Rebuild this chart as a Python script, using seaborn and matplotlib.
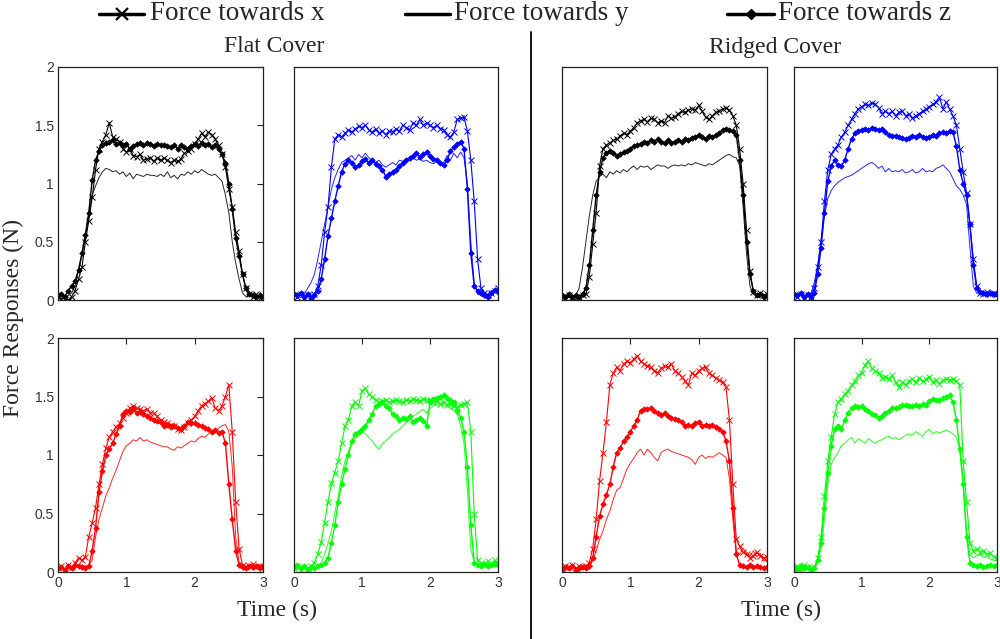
import numpy as np
import matplotlib
matplotlib.use('Agg')
import matplotlib.pyplot as plt
from matplotlib.lines import Line2D
import seaborn as sns

# time axis, 0.05 s sampling
time_s = np.linspace(0, 3, 61)

# ---- Flat cover, black (top-left) ----
flat_k_x = [0.03, 0.01, 0.02, 0.00, 0.03, 0.08, 0.18, 0.28, 0.50, 0.68,
            0.88, 1.12, 1.30, 1.36, 1.42, 1.52, 1.40, 1.38, 1.36, 1.30,
            1.27, 1.30, 1.24, 1.23, 1.25, 1.20, 1.21, 1.22, 1.19, 1.22,
            1.20, 1.22, 1.20, 1.18, 1.20, 1.19, 1.21, 1.26, 1.28, 1.30,
            1.34, 1.38, 1.43, 1.40, 1.44, 1.42, 1.38, 1.33, 1.25, 1.14,
            0.95, 0.80, 0.58, 0.42, 0.22, 0.10, 0.05, 0.03, 0.05, 0.02,
            0.03]
flat_k_y = [0.02, 0.03, 0.02, 0.04, 0.06, 0.12, 0.25, 0.38, 0.55, 0.72,
            0.90, 0.98, 1.05, 1.10, 1.13, 1.12, 1.10, 1.11, 1.08, 1.10,
            1.06, 1.09, 1.04, 1.08, 1.07, 1.06, 1.08, 1.07, 1.07, 1.06,
            1.08, 1.06, 1.10, 1.05, 1.07, 1.04, 1.08, 1.07, 1.10, 1.08,
            1.11, 1.09, 1.12, 1.10, 1.08, 1.07, 1.08, 1.05, 1.02, 0.90,
            0.75, 0.50, 0.32, 0.18, 0.06, 0.03, 0.04, 0.02, 0.03, 0.02,
            0.02]
flat_k_z = [0.04, 0.05, 0.03, 0.08, 0.12, 0.16, 0.26, 0.40, 0.56, 0.75,
            1.03, 1.20, 1.28, 1.33, 1.35, 1.36, 1.37, 1.34, 1.35, 1.33,
            1.34, 1.30, 1.32, 1.34, 1.35, 1.33, 1.35, 1.34, 1.32, 1.34,
            1.33, 1.33, 1.32, 1.31, 1.33, 1.30, 1.33, 1.31, 1.30, 1.32,
            1.34, 1.32, 1.35, 1.33, 1.34, 1.31, 1.33, 1.30, 1.25, 1.18,
            1.00, 0.78, 0.53, 0.38, 0.22, 0.10, 0.05, 0.04, 0.03, 0.04,
            0.03]

# ---- Flat cover, blue (top-right) ----
flat_b_x = [0.04, 0.03, 0.05, 0.02, 0.04, 0.03, 0.05, 0.12, 0.30, 0.58,
            0.80, 1.14, 1.38, 1.42, 1.40, 1.43, 1.46, 1.44, 1.47, 1.49,
            1.48, 1.50, 1.46, 1.44, 1.47, 1.43, 1.45, 1.42, 1.45, 1.44,
            1.47, 1.45, 1.50, 1.48, 1.46, 1.52, 1.50, 1.55, 1.50, 1.52,
            1.50, 1.48, 1.50, 1.47, 1.46, 1.42, 1.40, 1.44, 1.55, 1.56,
            1.57, 1.45, 1.20, 0.85, 0.35, 0.10, 0.06, 0.04, 0.06, 0.08,
            0.10]
flat_b_y = [0.03, 0.04, 0.02, 0.05, 0.10, 0.15, 0.22, 0.35, 0.50, 0.65,
            0.80, 0.95, 1.05, 1.12, 1.18, 1.20, 1.22, 1.24, 1.20, 1.25,
            1.22, 1.26, 1.22, 1.20, 1.18, 1.20, 1.16, 1.14, 1.16, 1.18,
            1.16, 1.20, 1.19, 1.21, 1.20, 1.22, 1.20, 1.21, 1.19, 1.20,
            1.18, 1.17, 1.19, 1.17, 1.18, 1.24, 1.20, 1.26, 1.22, 1.27,
            1.22, 1.00, 0.50, 0.15, 0.05, 0.04, 0.03, 0.05, 0.08, 0.07,
            0.06]
flat_b_z = [0.05, 0.04, 0.06, 0.03, 0.05, 0.02, 0.04, 0.08, 0.18, 0.35,
            0.55, 0.70, 0.85, 0.98, 1.10, 1.17, 1.20, 1.18, 1.14, 1.16,
            1.19, 1.21, 1.18, 1.20, 1.17, 1.15, 1.12, 1.06, 1.08, 1.10,
            1.12, 1.15, 1.18, 1.20, 1.22, 1.24, 1.26, 1.23, 1.25, 1.27,
            1.24, 1.21, 1.20, 1.18, 1.16, 1.20, 1.28, 1.31, 1.34, 1.36,
            1.30, 0.95, 0.40, 0.12, 0.08, 0.06, 0.04, 0.03, 0.06, 0.09,
            0.07]

# ---- Ridged cover, black (top-left) ----
ridge_k_x = [0.03, 0.02, 0.04, 0.03, 0.02, 0.03, 0.04, 0.05, 0.20, 0.48,
             0.75, 1.15, 1.30, 1.33, 1.35, 1.37, 1.38, 1.41, 1.43, 1.42,
             1.45, 1.48, 1.52, 1.54, 1.55, 1.53, 1.56, 1.55, 1.52, 1.54,
             1.52, 1.58, 1.56, 1.57, 1.60, 1.62, 1.61, 1.63, 1.64, 1.63,
             1.67, 1.62, 1.57, 1.55, 1.58, 1.61, 1.62, 1.64, 1.65, 1.63,
             1.58, 1.50, 1.30, 1.00, 0.60, 0.25, 0.07, 0.04, 0.06, 0.04,
             0.05]
ridge_k_y = [0.02, 0.03, 0.02, 0.03, 0.04, 0.10, 0.28, 0.50, 0.72, 0.90,
             1.02, 1.06, 1.08, 1.05, 1.10, 1.08, 1.11, 1.09, 1.12, 1.10,
             1.13, 1.15, 1.12, 1.15, 1.14, 1.15, 1.12, 1.14, 1.16, 1.15,
             1.15, 1.13, 1.15, 1.16, 1.15, 1.16, 1.15, 1.17, 1.16, 1.18,
             1.17, 1.16, 1.15, 1.17, 1.16, 1.18, 1.20, 1.22, 1.24, 1.25,
             1.23, 1.22, 1.15, 0.80, 0.40, 0.12, 0.05, 0.04, 0.03, 0.05,
             0.04]
ridge_k_z = [0.04, 0.03, 0.05, 0.03, 0.04, 0.03, 0.05, 0.10, 0.30, 0.60,
             0.90, 1.10, 1.22, 1.26, 1.28, 1.26, 1.24, 1.25, 1.27, 1.28,
             1.30, 1.32, 1.33, 1.34, 1.36, 1.35, 1.37, 1.36, 1.38, 1.36,
             1.35, 1.37, 1.35, 1.36, 1.37, 1.36, 1.38, 1.37, 1.39, 1.40,
             1.42, 1.40, 1.38, 1.41, 1.40, 1.42, 1.43, 1.46, 1.47, 1.46,
             1.45, 1.42, 1.20, 0.90, 0.50, 0.22, 0.08, 0.04, 0.05, 0.03,
             0.04]

# ---- Ridged cover, blue (top-right) ----
ridge_b_x = [0.04, 0.03, 0.05, 0.02, 0.04, 0.03, 0.10, 0.28, 0.50, 0.85,
             1.12, 1.25, 1.30, 1.33, 1.40, 1.44, 1.50, 1.55, 1.60, 1.64,
             1.66, 1.68, 1.67, 1.69, 1.68, 1.65, 1.60, 1.62, 1.60, 1.62,
             1.58, 1.61, 1.62, 1.58, 1.60, 1.56, 1.58, 1.60, 1.62, 1.64,
             1.66, 1.68, 1.70, 1.74, 1.64, 1.70, 1.64, 1.58, 1.50, 1.30,
             1.10, 0.92, 0.65, 0.35, 0.12, 0.06, 0.05, 0.07, 0.05, 0.06,
             0.05]
ridge_b_y = [0.03, 0.02, 0.04, 0.02, 0.03, 0.05, 0.15, 0.30, 0.52, 0.72,
             0.87, 0.94, 0.98, 1.01, 1.03, 1.05, 1.06, 1.07, 1.09, 1.11,
             1.13, 1.15, 1.17, 1.18, 1.16, 1.13, 1.15, 1.10, 1.13, 1.10,
             1.11, 1.10, 1.12, 1.09, 1.10, 1.12, 1.09, 1.10, 1.13, 1.10,
             1.11, 1.10, 1.13, 1.14, 1.16, 1.13, 1.10, 1.04, 0.98, 0.95,
             0.90, 0.82, 0.45, 0.12, 0.06, 0.05, 0.04, 0.05, 0.04, 0.04,
             0.03]
ridge_b_z = [0.05, 0.04, 0.06, 0.03, 0.05, 0.03, 0.06, 0.22, 0.45, 0.75,
             1.02, 1.15, 1.20, 1.16, 1.15, 1.20, 1.30, 1.38, 1.43, 1.45,
             1.46, 1.47, 1.46, 1.48, 1.47, 1.46, 1.47, 1.44, 1.42, 1.41,
             1.41, 1.40, 1.39, 1.38, 1.39, 1.41, 1.40, 1.42, 1.40, 1.39,
             1.40, 1.42, 1.41, 1.43, 1.44, 1.43, 1.45, 1.44, 1.32, 1.12,
             1.00, 0.90, 0.65, 0.30, 0.10, 0.07, 0.06, 0.05, 0.06, 0.05,
             0.05]

# ---- Flat cover, red (bottom-left) ----
flat_r_x = [0.03, 0.05, 0.02, 0.06, 0.04, 0.08, 0.12, 0.10, 0.13, 0.30,
            0.42, 0.55, 0.75, 0.92, 1.06, 1.15, 1.20, 1.24, 1.27, 1.32,
            1.36, 1.40, 1.42, 1.40, 1.39, 1.38, 1.39, 1.36, 1.36, 1.33,
            1.30, 1.28, 1.27, 1.26, 1.25, 1.22, 1.21, 1.24, 1.27, 1.30,
            1.33, 1.38, 1.42, 1.44, 1.46, 1.49, 1.40, 1.38, 1.42, 1.50,
            1.60, 1.20, 0.60, 0.20, 0.06, 0.04, 0.05, 0.07, 0.04, 0.05,
            0.05]
flat_r_y = [0.02, 0.03, 0.02, 0.04, 0.03, 0.05, 0.04, 0.06, 0.05, 0.06,
            0.10, 0.30, 0.45, 0.55, 0.65, 0.72, 0.80, 0.87, 0.95, 1.03,
            1.08, 1.10, 1.13, 1.12, 1.15, 1.12, 1.13, 1.11, 1.10, 1.09,
            1.08, 1.07, 1.07, 1.05, 1.04, 1.07, 1.06, 1.08, 1.10, 1.12,
            1.11, 1.14, 1.16, 1.15, 1.18, 1.20, 1.20, 1.23, 1.25, 1.26,
            1.20, 0.90, 0.30, 0.08, 0.05, 0.04, 0.06, 0.05, 0.04, 0.06,
            0.05]
flat_r_z = [0.03, 0.04, 0.02, 0.05, 0.03, 0.06, 0.05, 0.04, 0.03, 0.05,
            0.18, 0.38, 0.68, 0.86, 1.00, 1.05, 1.10, 1.18, 1.25, 1.35,
            1.38, 1.37, 1.39, 1.36, 1.37, 1.35, 1.33, 1.32, 1.30, 1.29,
            1.28, 1.25, 1.26, 1.24, 1.25, 1.23, 1.22, 1.25, 1.28, 1.27,
            1.27, 1.26, 1.25, 1.23, 1.22, 1.20, 1.21, 1.19, 1.20, 1.10,
            0.75, 0.45, 0.18, 0.06, 0.04, 0.03, 0.05, 0.04, 0.05, 0.03,
            0.04]

# ---- Flat cover, green (bottom-right) ----
flat_g_x = [0.03, 0.05, 0.02, 0.04, 0.03, 0.05, 0.08, 0.15, 0.26, 0.42,
            0.60, 0.76, 0.85, 0.95, 1.10, 1.25, 1.30, 1.42, 1.45, 1.42,
            1.55, 1.57, 1.52, 1.50, 1.47, 1.45, 1.46, 1.47, 1.45, 1.46,
            1.47, 1.46, 1.45, 1.47, 1.46, 1.48, 1.47, 1.46, 1.48, 1.47,
            1.47, 1.45, 1.46, 1.44, 1.45, 1.43, 1.44, 1.42, 1.41, 1.43,
            1.44, 1.45, 1.20, 0.50, 0.10, 0.08, 0.06, 0.09, 0.07, 0.10,
            0.08]
flat_g_y = [0.03, 0.02, 0.04, 0.03, 0.02, 0.04, 0.03, 0.05, 0.08, 0.15,
            0.25, 0.35, 0.50, 0.65, 0.82, 0.95, 1.03, 1.10, 1.14, 1.17,
            1.20, 1.18, 1.15, 1.12, 1.08, 1.05, 1.10, 1.12, 1.15, 1.18,
            1.20, 1.22, 1.25, 1.28, 1.30, 1.33, 1.35, 1.37, 1.39, 1.36,
            1.40, 1.42, 1.43, 1.44, 1.42, 1.43, 1.40, 1.38, 1.35, 1.25,
            1.10, 0.70, 0.20, 0.08, 0.06, 0.05, 0.06, 0.04, 0.05, 0.06,
            0.05]
flat_g_z = [0.04, 0.06, 0.03, 0.05, 0.02, 0.04, 0.03, 0.05, 0.06, 0.08,
            0.12, 0.25, 0.40, 0.60, 0.75, 0.88, 1.00, 1.12, 1.18, 1.20,
            1.22, 1.25, 1.30, 1.35, 1.42, 1.44, 1.45, 1.42, 1.40, 1.35,
            1.33, 1.30, 1.32, 1.31, 1.33, 1.28, 1.30, 1.32, 1.29, 1.25,
            1.45, 1.48, 1.49, 1.50, 1.51, 1.49, 1.47, 1.45, 1.38, 1.32,
            1.20, 0.90, 0.40, 0.08, 0.06, 0.05, 0.07, 0.05, 0.06, 0.07,
            0.06]

# ---- Ridged cover, red (bottom-left) ----
ridge_r_x = [0.03, 0.05, 0.04, 0.06, 0.03, 0.05, 0.04, 0.05, 0.08, 0.20,
             0.45, 0.78, 1.02, 1.28, 1.60, 1.70, 1.75, 1.72, 1.78, 1.80,
             1.79, 1.82, 1.85, 1.80, 1.78, 1.76, 1.75, 1.72, 1.70, 1.74,
             1.76, 1.75, 1.78, 1.72, 1.70, 1.67, 1.63, 1.60, 1.70, 1.68,
             1.72, 1.74, 1.75, 1.70, 1.68, 1.66, 1.64, 1.62, 1.58, 1.30,
             0.75, 0.28, 0.22, 0.17, 0.15, 0.12, 0.14, 0.17, 0.14, 0.12,
             0.13]
ridge_r_y = [0.02, 0.03, 0.02, 0.04, 0.03, 0.02, 0.03, 0.02, 0.04, 0.10,
             0.18, 0.28, 0.35, 0.45, 0.52, 0.62, 0.70, 0.72, 0.80, 0.88,
             0.93, 0.97, 1.02, 1.05, 1.00, 1.05, 1.02, 0.98, 0.95, 1.02,
             1.04, 1.05, 1.03, 1.02, 1.01, 1.00, 0.99, 0.98, 0.96, 0.92,
             0.98, 1.00, 0.97, 0.99, 0.98, 1.00, 1.02, 1.00, 0.98, 0.80,
             0.45, 0.18, 0.15, 0.20, 0.17, 0.14, 0.18, 0.13, 0.16, 0.10,
             0.09]
ridge_r_z = [0.02, 0.04, 0.03, 0.05, 0.02, 0.03, 0.04, 0.03, 0.05, 0.12,
             0.30, 0.48, 0.58, 0.66, 0.75, 0.90, 1.02, 1.06, 1.12, 1.15,
             1.20, 1.25, 1.30, 1.38, 1.39, 1.39, 1.40, 1.38, 1.36, 1.34,
             1.36, 1.33, 1.32, 1.31, 1.30, 1.28, 1.25, 1.26, 1.25, 1.27,
             1.28, 1.25, 1.26, 1.25, 1.26, 1.24, 1.22, 1.20, 1.12, 0.95,
             0.55, 0.15, 0.06, 0.05, 0.04, 0.06, 0.04, 0.05, 0.04, 0.03,
             0.04]

# ---- Ridged cover, green (bottom-right) ----
ridge_g_x = [0.03, 0.05, 0.02, 0.06, 0.04, 0.03, 0.04, 0.12, 0.30, 0.65,
             0.95, 1.15, 1.35, 1.45, 1.48, 1.52, 1.55, 1.60, 1.63, 1.68,
             1.70, 1.77, 1.80, 1.74, 1.72, 1.70, 1.66, 1.67, 1.65, 1.68,
             1.62, 1.58, 1.62, 1.60, 1.63, 1.65, 1.62, 1.66, 1.63, 1.65,
             1.67, 1.62, 1.64, 1.61, 1.64, 1.65, 1.64, 1.65, 1.63, 1.60,
             0.95, 0.60, 0.25, 0.18, 0.20, 0.17, 0.18, 0.15, 0.16, 0.13,
             0.12]
ridge_g_y = [0.02, 0.03, 0.02, 0.04, 0.03, 0.02, 0.04, 0.10, 0.20, 0.45,
             0.75, 0.92, 0.98, 1.02, 1.08, 1.10, 1.13, 1.15, 1.10, 1.14,
             1.12, 1.10, 1.14, 1.12, 1.10, 1.12, 1.13, 1.15, 1.16, 1.14,
             1.15, 1.13, 1.15, 1.17, 1.18, 1.17, 1.20, 1.18, 1.16, 1.20,
             1.22, 1.18, 1.20, 1.19, 1.20, 1.21, 1.20, 1.18, 1.15, 1.05,
             0.80, 0.35, 0.15, 0.12, 0.14, 0.15, 0.12, 0.13, 0.11, 0.10,
             0.10]
ridge_g_z = [0.04, 0.02, 0.05, 0.03, 0.04, 0.02, 0.03, 0.10, 0.25, 0.55,
             0.85, 1.08, 1.22, 1.25, 1.22, 1.30, 1.36, 1.40, 1.42, 1.41,
             1.42, 1.39, 1.38, 1.35, 1.34, 1.32, 1.33, 1.36, 1.38, 1.40,
             1.40, 1.41, 1.43, 1.43, 1.42, 1.42, 1.43, 1.42, 1.44, 1.43,
             1.46, 1.48, 1.47, 1.47, 1.49, 1.50, 1.51, 1.45, 1.30, 1.05,
             0.75, 0.30, 0.08, 0.06, 0.05, 0.06, 0.04, 0.05, 0.06, 0.05,
             0.06]

legend_labels = ['Force towards x', 'Force towards y', 'Force towards z']
y_ticks = [0, 0.5, 1, 1.5, 2]
y_ticklabels = ['0', '0.5', '1', '1.5', '2']
x_ticks = [0, 1, 2, 3]
x_ticklabels = ['0', '1', '2', '3']

sns.set_theme(style='white')
plt.rcParams['font.family'] = ['Liberation Serif', 'DejaVu Serif']

fig = plt.figure(figsize=(10, 6.39), dpi=100)

W, H = 1000.0, 639.0
top_b, top_h = 1 - 300 / H, 233 / H
bot_b, bot_h = 1 - 572 / H, 234 / H

# (left px, width px, bottom, height, colour, x, y, z, y labels, x labels)
panels = [
    (58, 205, top_b, top_h, '#000000', flat_k_x, flat_k_y, flat_k_z, True, False),
    (294, 204, top_b, top_h, '#0000ff', flat_b_x, flat_b_y, flat_b_z, False, False),
    (562, 205, top_b, top_h, '#000000', ridge_k_x, ridge_k_y, ridge_k_z, False, False),
    (794, 203, top_b, top_h, '#0000ff', ridge_b_x, ridge_b_y, ridge_b_z, False, False),
    (58, 205, bot_b, bot_h, '#ff0000', flat_r_x, flat_r_y, flat_r_z, True, True),
    (294, 204, bot_b, bot_h, '#00ff00', flat_g_x, flat_g_y, flat_g_z, False, True),
    (562, 205, bot_b, bot_h, '#ff0000', ridge_r_x, ridge_r_y, ridge_r_z, False, True),
    (794, 203, bot_b, bot_h, '#00ff00', ridge_g_x, ridge_g_y, ridge_g_z, False, True),
]

for left, width, bottom, height, col, fx, fy, fz, ylab, xlab in panels:
    ax = fig.add_axes([left / W, bottom, width / W, height])
    sns.lineplot(x=time_s, y=fy, ax=ax, color=col, lw=0.7, alpha=0.85)
    sns.lineplot(x=time_s, y=fx, ax=ax, color=col, lw=0.8,
                 marker='x', markersize=4.5, markeredgewidth=0.7,
                 markeredgecolor=col, markerfacecolor=col)
    sns.lineplot(x=time_s, y=fz, ax=ax, color=col, lw=1.0,
                 marker='D', markersize=2.8, markeredgewidth=0.5,
                 markeredgecolor=col, markerfacecolor=col)
    ax.set_xlim(0, 3)
    ax.set_ylim(0, 2)
    ax.set_xlabel('')
    ax.set_ylabel('')
    for sp in ax.spines.values():
        sp.set_color('#222222')
        sp.set_linewidth(0.9)
    if ylab:
        ax.set_yticks(y_ticks)
        ax.set_yticklabels(y_ticklabels, fontfamily='Liberation Sans')
    else:
        ax.set_yticks([])
    if xlab:
        ax.set_xticks(x_ticks)
        ax.set_xticklabels(x_ticklabels, fontfamily='Liberation Sans')
    else:
        ax.set_xticks([])
    ax.tick_params(direction='in', length=4, width=0.8, top=True, right=True,
                   labelsize=10, labelcolor='#333333', color='#222222', pad=3)

fig.text(274 / W, 1 - 47 / H, 'Flat Cover', ha='center', va='center', fontsize=17)
fig.text(775 / W, 1 - 47 / H, 'Ridged Cover', ha='center', va='center', fontsize=17)
fig.text(277 / W, 1 - 610 / H, 'Time (s)', ha='center', va='center', fontsize=17)
fig.text(781 / W, 1 - 610 / H, 'Time (s)', ha='center', va='center', fontsize=17)
fig.text(13 / W, 1 - 318 / H, 'Force Responses (N)', ha='center', va='center',
         rotation=90, fontsize=17)

# divider between the two cover types
fig.add_artist(Line2D([531 / W, 531 / W], [0, 1 - 32 / H],
                      transform=fig.transFigure, color='black', lw=1.3))

# legend drawn entry by entry to match the uneven spacing at the top
legend_y = 1 - 14 / H
legend_entries = [
    ((99, 144), 150, dict(marker='x', markersize=8, markeredgewidth=1.6)),
    ((405, 450), 454, dict()),
    ((727, 774), 778, dict(marker='D', markersize=5)),
]
for (h0, h1), tx, mk in zip([e[0] for e in legend_entries],
                            [e[1] for e in legend_entries],
                            [e[2] for e in legend_entries]):
    fig.add_artist(Line2D([h0 / W, h1 / W], [legend_y, legend_y],
                          transform=fig.transFigure, color='black', lw=2.5))
    if mk:
        fig.add_artist(Line2D([(h0 + h1) / 2 / W], [legend_y],
                              transform=fig.transFigure, color='black',
                              lw=0, **mk))
for (_, tx, _), label in zip(legend_entries, legend_labels):
    fig.text(tx / W, legend_y, label, ha='left', va='center', fontsize=19.5)

fig.savefig('out.png', dpi=100)
